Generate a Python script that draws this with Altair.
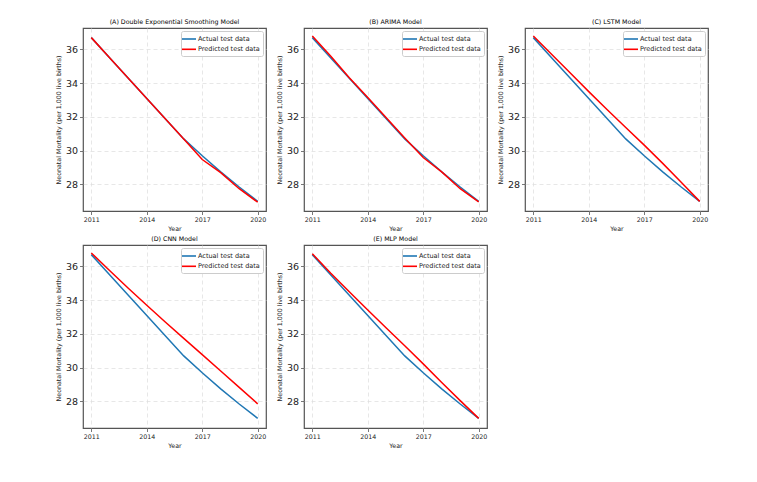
import altair as alt
import pandas as pd

years = [2011, 2012, 2013, 2014, 2015, 2016, 2017, 2018, 2019, 2020]
actual = [36.7, 35.5, 34.3, 33.1, 31.9, 30.7, 29.7, 28.75, 27.85, 27.0]

titles = [
    "(A) Double Exponential Smoothing Model",
    "(B) ARIMA Model",
    "(C) LSTM Model",
    "(D) CNN Model",
    "(E) MLP Model",
]
pred_des = [36.7, 35.5, 34.3, 33.1, 31.9, 30.7, 29.48, 28.7, 27.75, 26.95]
pred_arima = [36.8, 35.6, 34.32, 33.15, 31.95, 30.75, 29.6, 28.75, 27.75, 26.97]
pred_lstm = [36.8, 35.7, 34.6, 33.5, 32.43, 31.38, 30.33, 29.25, 28.13, 27.0]
pred_cnn = [36.8, 35.74, 34.71, 33.7, 32.71, 31.74, 30.78, 29.81, 28.84, 27.86]
pred_mlp = [36.75, 35.6, 34.5, 33.42, 32.35, 31.3, 30.23, 29.13, 28.05, 27.0]
preds = [pred_des, pred_arima, pred_lstm, pred_cnn, pred_mlp]

series_names = ["Actual test data", "Predicted test data"]
series_colors = ["#1f77b4", "#ff0000"]
x_ticks = [2011, 2014, 2017, 2020]
y_ticks = [28, 30, 32, 34, 36]
x_domain = [2010.55, 2020.45]
y_domain = [26.43, 37.27]

FONT = "DejaVu Sans"
W = 183
H = 183


def panel(title, pred):
    df = pd.DataFrame({
        "Year": years + years,
        "value": actual + pred,
        "series": [series_names[0]] * len(years) + [series_names[1]] * len(years),
    })
    return alt.Chart(df).mark_line(strokeWidth=1.5, clip=True).encode(
        x=alt.X("Year:Q",
                scale=alt.Scale(domain=x_domain, nice=False, zero=False),
                axis=alt.Axis(values=x_ticks, format="d", title="Year",
                              labelFontSize=6.3, titleFontSize=6.3,
                              labelPadding=2, titlePadding=3)),
        y=alt.Y("value:Q",
                scale=alt.Scale(domain=y_domain, nice=False, zero=False),
                axis=alt.Axis(values=y_ticks, title="Neonatal Mortality (per 1,000 live births)",
                              labelFontSize=9.5, titleFontSize=6.3,
                              labelPadding=2, titlePadding=4)),
        color=alt.Color("series:N",
                        scale=alt.Scale(domain=series_names, range=series_colors),
                        title=None,
                        legend=alt.Legend(orient="top-right", offset=3,
                                          fillColor="white", strokeColor="#cccccc",
                                          cornerRadius=2, padding=3,
                                          symbolType="M-1.75,0H1.75", symbolSize=64,
                                          symbolStrokeWidth=1.6, labelFontSize=6.5,
                                          rowPadding=1.3, labelOffset=4)),
    ).properties(
        width=W, height=H,
        title=alt.TitleParams(text=title, fontSize=6.3, fontWeight="normal",
                              anchor="middle", offset=3, font=FONT),
    )


charts = [panel(t, p) for t, p in zip(titles, preds)]
row1 = alt.hconcat(charts[0], charts[1], charts[2], spacing=8).resolve_scale(
    color="independent").resolve_legend(color="independent")
row2 = alt.hconcat(charts[3], charts[4], spacing=8).resolve_scale(
    color="independent").resolve_legend(color="independent")
chart = alt.vconcat(row1, row2, spacing=2).resolve_scale(
    color="independent").resolve_legend(color="independent").properties(
    padding={"left": 46, "top": 10, "right": 5, "bottom": 5}
).configure(font=FONT).configure_view(
    stroke="#555555", strokeWidth=1.2
).configure_axis(
    domain=False, tickColor="#555555", tickSize=3.5, tickWidth=0.8,
    labelColor="#222222", titleColor="#222222", labelFont=FONT, titleFont=FONT,
    grid=True, gridColor="#dddddd", gridDash=[4, 3], gridWidth=0.7,
    titleFontWeight="normal",
).configure_legend(labelFont=FONT, labelColor="#222222")

chart.save("out.html", embed_options={"renderer": "svg", "actions": False})
